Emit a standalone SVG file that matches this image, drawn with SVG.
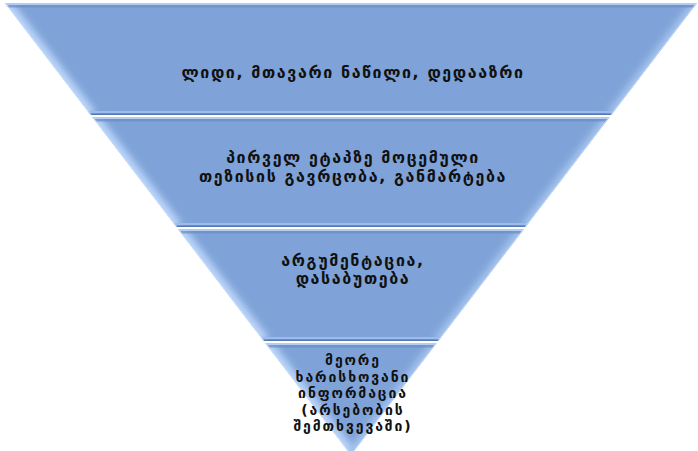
<svg xmlns="http://www.w3.org/2000/svg" width="698" height="451" viewBox="0 0 698 451">
<style>
.band{fill:#7fa3d8;}
.hiL{stroke:#bcd6fa;stroke-width:12;fill:none;}
.hiR{stroke:#a6c4ee;stroke-width:10;fill:none;}
.hiT{stroke:#b2ccf2;stroke-width:3;fill:none;}
.shT{stroke:#6b8cc2;stroke-width:3;fill:none;opacity:0.7;}
.hiB{stroke:#9abcf0;stroke-width:2;fill:none;}
.shB{stroke:#5578b0;stroke-width:2;fill:none;}
.edge{stroke:#c9defc;stroke-width:1.5;fill:none;}
.lbl{font-family:"DejaVu Sans","Noto Sans",sans-serif;font-weight:bold;font-size:16px;letter-spacing:1.6px;fill:#111;text-anchor:middle;}
.sm{font-size:14px;letter-spacing:1.9px;}
</style>
<defs>
<filter id="soft" x="-20%" y="-20%" width="140%" height="140%"><feGaussianBlur stdDeviation="3.5"/></filter>
<clipPath id="c1"><polygon points="5,3 697,3 611.3,115 90.7,115"/></clipPath>
<clipPath id="c2"><polygon points="92.3,117 609.7,117 525.5,227 176.5,227"/></clipPath>
<clipPath id="c3"><polygon points="178,229 524,229 438.3,341 263.7,341"/></clipPath>
<clipPath id="c4"><polygon points="265.3,343 436.7,343 351,455"/></clipPath>
</defs>

<g id="level1">
<polygon class="band" points="5,3 697,3 611.3,115 90.7,115"/>
<g clip-path="url(#c1)">
<line class="hiL" filter="url(#soft)" x1="5" y1="3" x2="90.7" y2="115"/>
<line class="hiR" filter="url(#soft)" x1="697" y1="3" x2="611.3" y2="115"/>
<line class="shT" x1="0" y1="6" x2="698" y2="6"/>
<line class="hiT" x1="0" y1="3.5" x2="698" y2="3.5"/>
<line class="hiB" x1="0" y1="112" x2="698" y2="112"/>
<line class="shB" x1="0" y1="114.5" x2="698" y2="114.5"/>
<line class="edge" x1="5" y1="3" x2="90.7" y2="115"/>
<line class="edge" x1="697" y1="3" x2="611.3" y2="115"/>
</g>
<text class="lbl" x="353" y="78">ლიდი, მთავარი ნაწილი, დედააზრი</text>
</g>

<g id="level2">
<polygon class="band" points="92.3,117 609.7,117 525.5,227 176.5,227"/>
<g clip-path="url(#c2)">
<line class="hiL" filter="url(#soft)" x1="92.3" y1="117" x2="176.5" y2="227"/>
<line class="hiR" filter="url(#soft)" x1="609.7" y1="117" x2="525.5" y2="227"/>
<line class="shT" x1="0" y1="120" x2="698" y2="120"/>
<line class="hiT" x1="0" y1="117.5" x2="698" y2="117.5"/>
<line class="hiB" x1="0" y1="224" x2="698" y2="224"/>
<line class="shB" x1="0" y1="226.5" x2="698" y2="226.5"/>
<line class="edge" x1="92.3" y1="117" x2="176.5" y2="227"/>
<line class="edge" x1="609.7" y1="117" x2="525.5" y2="227"/>
</g>
<text class="lbl" x="353" y="163">პირველ ეტაპზე მოცემული</text>
<text class="lbl" x="353" y="182">თეზისის გავრცობა, განმარტება</text>
</g>

<g id="level3">
<polygon class="band" points="178,229 524,229 438.3,341 263.7,341"/>
<g clip-path="url(#c3)">
<line class="hiL" filter="url(#soft)" x1="178" y1="229" x2="263.7" y2="341"/>
<line class="hiR" filter="url(#soft)" x1="524" y1="229" x2="438.3" y2="341"/>
<line class="shT" x1="0" y1="232" x2="698" y2="232"/>
<line class="hiT" x1="0" y1="229.5" x2="698" y2="229.5"/>
<line class="hiB" x1="0" y1="338" x2="698" y2="338"/>
<line class="shB" x1="0" y1="340.5" x2="698" y2="340.5"/>
<line class="edge" x1="178" y1="229" x2="263.7" y2="341"/>
<line class="edge" x1="524" y1="229" x2="438.3" y2="341"/>
</g>
<text class="lbl" x="353" y="266">არგუმენტაცია,</text>
<text class="lbl" x="353" y="284">დასაბუთება</text>
</g>

<g id="level4">
<polygon class="band" points="265.3,343 436.7,343 351,455"/>
<g clip-path="url(#c4)">
<line class="hiL" filter="url(#soft)" x1="265.3" y1="343" x2="351" y2="455"/>
<line class="hiR" filter="url(#soft)" x1="436.7" y1="343" x2="351" y2="455"/>
<line class="shT" x1="0" y1="346" x2="698" y2="346"/>
<line class="hiT" x1="0" y1="343.5" x2="698" y2="343.5"/>
<line class="edge" x1="265.3" y1="343" x2="351" y2="455"/>
<line class="edge" x1="436.7" y1="343" x2="351" y2="455"/>
</g>
<text class="lbl sm" x="353" y="365">მეორე</text>
<text class="lbl sm" x="353" y="381.5">ხარისხოვანი</text>
<text class="lbl sm" x="353" y="398">ინფორმაცია</text>
<text class="lbl sm" x="353" y="414.5">(არსებობის</text>
<text class="lbl sm" x="353" y="431">შემთხვევაში)</text>
</g>

<g id="connectors"/>
</svg>
